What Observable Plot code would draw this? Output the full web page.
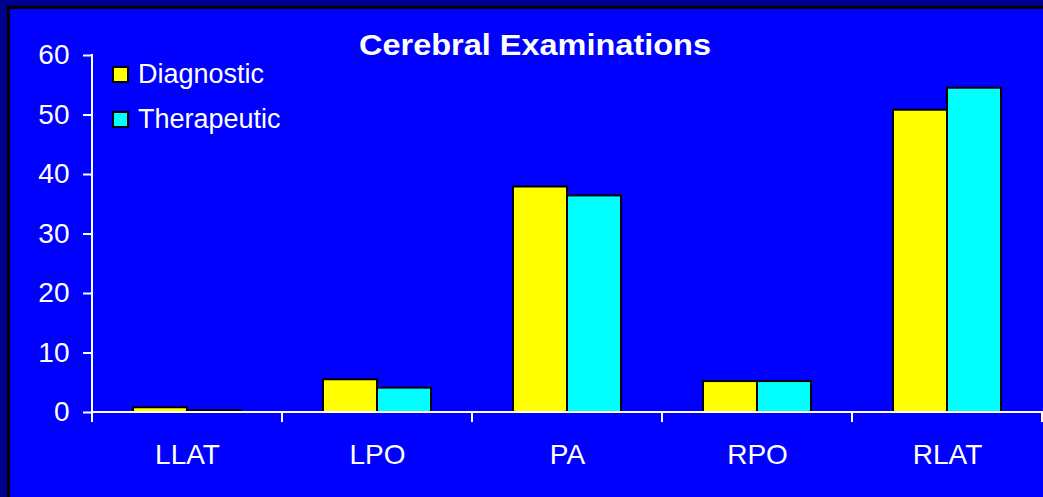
<!DOCTYPE html>
<html>
<head>
<meta charset="utf-8">
<script src="https://cdn.jsdelivr.net/npm/d3@7"></script>
<script src="https://cdn.jsdelivr.net/npm/@observablehq/plot@0.6"></script>
<style>
  html, body { margin: 0; padding: 0; }
  body { width: 1043px; height: 497px; background: #00008e; position: relative; overflow: hidden;
         font-family: "Liberation Sans", Arial, sans-serif; }
  #panel { position: absolute; left: 7px; top: 6px; right: -10px; bottom: -10px; background: #0000ff;
           border-left: 3px solid #000; border-top: 3px solid #000; }
  #chart { position: absolute; left: 0; top: 0; }
  #title { position: absolute; left: 0; width: 1070px; top: 31px; text-align: center; color: #fff;
           font-weight: bold; font-size: 29px; line-height: 29px; white-space: nowrap;
           transform: scaleX(1.12); transform-origin: 535px 0; }
  #legend { position: absolute; left: 112px; top: 52px; }
  .row { height: 45px; display: flex; align-items: center; }
  .sw { width: 17px; height: 17px; box-sizing: border-box; border: 2px solid #000; margin-right: 9px; }
  .lab { color: #fff; font-size: 27px; line-height: 27px; white-space: nowrap; }
</style>
</head>
<body>
<div id="panel"></div>
<div id="chart"></div>
<div id="title"></div>
<div id="legend"></div>
<script>
const title = "Cerebral Examinations";
const categories = ["LLAT", "LPO", "PA", "RPO", "RLAT"];
const series = ["Diagnostic", "Therapeutic"];
const diagnostic = [0.8, 5.5, 37.9, 5.2, 50.8];
const therapeutic = [0.3, 4.1, 36.4, 5.2, 54.5];
const colors = ["#ffff00", "#00ffff"];
const yTicks = [0, 10, 20, 30, 40, 50, 60];

const seriesValues = [diagnostic, therapeutic];
const data = categories.flatMap((c, i) =>
  series.map((s, j) => ({category: c, series: s, value: seriesValues[j][i]})));

const W = 1043;
const chart = Plot.plot({
  width: W,
  height: 497,
  marginLeft: 90,
  marginRight: 0,
  marginTop: 55,
  marginBottom: 85,
  style: {background: "transparent", color: "#fff", fontFamily: "'Liberation Sans', Arial, sans-serif", overflow: "visible"},
  fx: {domain: categories, paddingInner: 0, paddingOuter: 0, label: null},
  x: {domain: series, paddingInner: 0, paddingOuter: 0.75, axis: null},
  y: {domain: [0, 60], label: null},
  color: {domain: series, range: colors},
  marks: [
    Plot.barY(data, {fx: "category", x: "series", y: "value", fill: "series", stroke: "#000", strokeWidth: 2, inset: 0}),
    Plot.axisY({ticks: yTicks, tickSize: 9, tickPadding: 14, fontSize: 28, strokeWidth: 2, label: null}),
    Plot.axisFx({anchor: "bottom", tickSize: 0, tickPadding: 32, fontSize: 28, label: null})
  ]
});

// axis lines and category boundary ticks, positioned with the plot's own scales
const fxScale = chart.scale("fx");
const yScale = chart.scale("y");
const y0 = yScale.apply(0);
const yTop = yScale.apply(yTicks[yTicks.length - 1]);
const edges = categories.map(c => fxScale.apply(c));
edges.push(fxScale.apply(categories[categories.length - 1]) + fxScale.bandwidth);
const g = d3.select(chart).append("g").attr("stroke", "#fff").attr("stroke-width", 2).attr("fill", "none");
edges.forEach(e => g.append("line").attr("x1", e).attr("x2", e).attr("y1", y0).attr("y2", y0 + 10));
g.append("line").attr("x1", edges[0]).attr("x2", edges[0]).attr("y1", yTop - 1).attr("y2", y0 + 10);
g.append("line").attr("x1", edges[0]).attr("x2", W).attr("y1", y0).attr("y2", y0);

document.getElementById("chart").appendChild(chart);

document.getElementById("title").textContent = title;
const legend = d3.select("#legend");
series.forEach((s, i) => {
  const row = legend.append("div").attr("class", "row");
  row.append("div").attr("class", "sw").style("background", colors[i]);
  row.append("span").attr("class", "lab").text(s);
});
</script>
</body>
</html>
